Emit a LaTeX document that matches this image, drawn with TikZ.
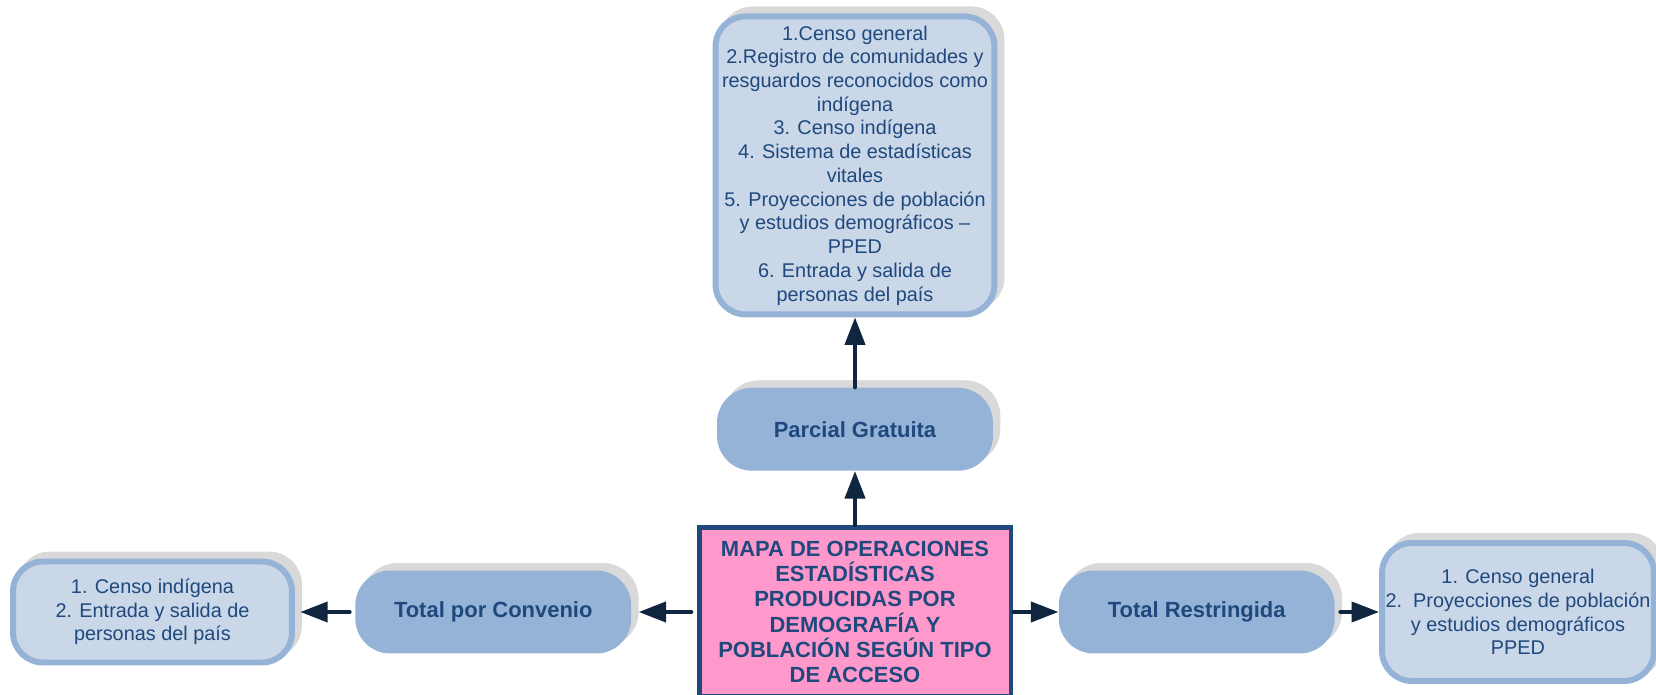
\documentclass[tikz,border=0pt]{standalone}
\usepackage{fontspec}
\setmainfont{Liberation Sans}
\usetikzlibrary{arrows.meta, positioning, shadows}

\definecolor{textblue}{HTML}{1F497D}
\definecolor{boxblue}{HTML}{95B3D7}
\definecolor{paleblue}{HTML}{C9D7E8}
\definecolor{shadowgray}{HTML}{D9D9D9}
\definecolor{mappink}{HTML}{FF99CC}
\definecolor{arrowblue}{HTML}{10253F}

\begin{document}
\begin{tikzpicture}[
    x=0.02cm, y=0.02cm,
    >={Triangle[length=0.55cm, width=0.4cm]},
    grayshadow/.style={drop shadow={shadow xshift=0.14cm, shadow yshift=0.14cm,
        opacity=1, fill=shadowgray, draw=shadowgray}},
    title/.style={rectangle, draw=textblue, fill=mappink, line width=2.8pt,
        text=textblue, align=center, inner sep=2pt,
        font=\fontsize{12.5}{14.4}\selectfont\bfseries,
        minimum width=6.24cm, minimum height=3.38cm},
    access/.style={rectangle, rounded corners=0.7cm, fill=boxblue, grayshadow,
        text=textblue, font=\fontsize{12.5}{14.4}\selectfont\bfseries,
        minimum width=5.52cm, minimum height=1.66cm},
    oplist/.style={rectangle, rounded corners=0.6cm, draw=boxblue, fill=paleblue,
        line width=3.4pt, grayshadow, text=textblue, align=center, inner sep=2pt,
        font=\fontsize{11.3}{13.5}\selectfont},
    link/.style={->, line width=2.3pt, line cap=round, draw=arrowblue}
]

    \useasboundingbox (0,0) rectangle (1656,-695);

    % Nodes ------------------------------------------------------

    \node[title] (mapa) at (855,-612) {MAPA DE OPERACIONES\\ESTADÍSTICAS\\PRODUCIDAS POR\\DEMOGRAFÍA Y\\POBLACIÓN SEGÚN TIPO\\DE ACCESO};

    \node[access, above=1.08cm of mapa] (parcial) {Parcial Gratuita};
    \node[access, left=1.3cm of mapa] (convenio) {Total por Convenio};
    \node[access, right=0.9cm of mapa] (restringida) {Total Restringida};

    % lists
    \node[oplist, above=1.4cm of parcial, minimum width=5.58cm, minimum height=5.96cm] (opsParcial)
        {1.Censo general\\2.Registro de comunidades y\\resguardos reconocidos como\\indígena\\3. Censo indígena\\4. Sistema de estadísticas\\vitales\\5. Proyecciones de población\\y estudios demográficos –\\PPED\\6. Entrada y salida de\\personas del país};
    \node[oplist, left=1.2cm of convenio, minimum width=5.58cm, minimum height=2.02cm] (opsConvenio)
        {1. Censo indígena\\2. Entrada y salida de\\personas del país};
    \node[oplist, right=0.88cm of restringida, minimum width=5.4cm, minimum height=2.76cm] (opsRestringida)
        {1. Censo general\\2.\ \ Proyecciones de población\\y estudios demográficos\\PPED};

    % Arrows ---------------------------------------------------

    \draw [link] (mapa) -- (parcial);
    \draw [link] (parcial) -- (opsParcial);
    \draw [link, shorten <=3pt, shorten >=4pt] (mapa) -- (convenio);
    \draw [link, shorten <=3pt, shorten >=3pt] (convenio) -- (opsConvenio);
    \draw [link] (mapa) -- (restringida);
    \draw [link, shorten <=3pt] (restringida) -- (opsRestringida);

\end{tikzpicture}
\end{document}
